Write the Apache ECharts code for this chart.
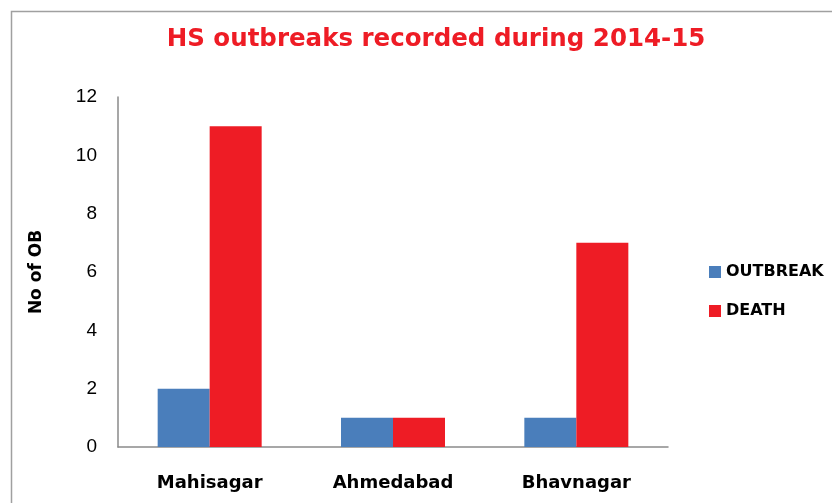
<!DOCTYPE html>
<html><head><meta charset="utf-8">
<script src="https://cdn.jsdelivr.net/npm/echarts@6/dist/echarts.min.js"></script>
<style>html,body{margin:0;padding:0;background:#fff}#c{width:832px;height:503px}</style>
</head><body><div id="c"></div>
<script>
const categories = ['Mahisagar', 'Ahmedabad', 'Bhavnagar'];
const outbreak = [2, 1, 1];
const death = [11, 1, 7];
const yTicks = [0, 2, 4, 6, 8, 10, 12];

const chart = echarts.init(document.getElementById('c'), null, {renderer: 'canvas'});
chart.setOption({
  animation: false,
  backgroundColor: '#fff',
  title: {
    text: 'HS outbreaks recorded during 2014-15',
    left: 431, top: 22, textAlign: 'center',
    textStyle: {color: '#ee1c25', fontSize: 24.5, fontWeight: 'bold', fontFamily: '"DejaVu Sans"'}
  },
  graphic: [{
    type: 'rect', shape: {x: 11.5, y: 11.5, width: 900, height: 600},
    style: {fill: 'none', stroke: '#a0a0a0', lineWidth: 1.5}, silent: true
  }],
  legend: {
    orient: 'vertical', left: 704, top: 259, itemGap: 23,
    itemWidth: 12, itemHeight: 12, icon: 'rect',
    textStyle: {fontSize: 16, fontWeight: 'bold', color: '#000', fontFamily: '"DejaVu Sans"'},
    data: ['OUTBREAK', 'DEATH']
  },
  grid: {left: 118, right: 164, top: 97, bottom: 56},
  xAxis: {
    type: 'category', data: categories,
    axisLine: {lineStyle: {color: '#8a8a8a', width: 1.5}},
    axisTick: {show: false},
    axisLabel: {margin: 27, fontSize: 18, fontWeight: 'bold', color: '#000', fontFamily: '"DejaVu Sans"'}
  },
  yAxis: {
    type: 'value', min: yTicks[0], max: yTicks[yTicks.length - 1], interval: 2,
    name: 'No of OB', nameLocation: 'middle', nameGap: 73, nameRotate: 90,
    nameTextStyle: {fontSize: 17, fontWeight: 'bold', color: '#000', fontFamily: '"DejaVu Sans"'},
    axisLine: {show: true, lineStyle: {color: '#8a8a8a', width: 1.5}},
    axisTick: {show: false},
    splitLine: {show: false},
    axisLabel: {margin: 21, fontSize: 19, color: '#000', fontFamily: '"Liberation Sans"'}
  },
  series: [
    {name: 'OUTBREAK', type: 'bar', data: outbreak, barWidth: 52, barGap: '0%', itemStyle: {color: '#4a7ebb'}},
    {name: 'DEATH', type: 'bar', data: death, barWidth: 52, barGap: '0%', itemStyle: {color: '#ee1c25'}}
  ]
});
</script></body></html>
